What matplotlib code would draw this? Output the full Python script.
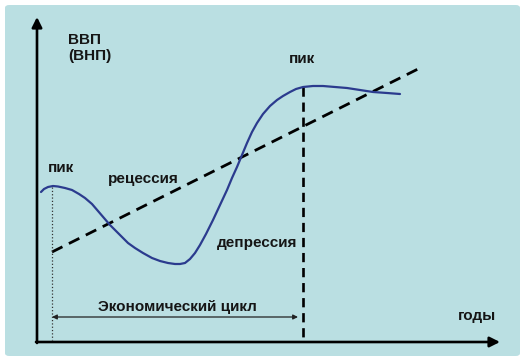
import matplotlib.pyplot as plt
from matplotlib.patches import FancyBboxPatch

# GDP curve (years, GDP in arbitrary units)
years = [0.4, 0.7, 1.1, 1.6, 2.1, 2.8, 3.5, 4.2, 4.8, 5.5, 6.1, 6.7, 7.3, 7.9,
         8.5, 9.1, 9.8, 10.6, 11.5, 12.3, 13.1, 13.8, 14.3, 14.8, 15.3, 15.8,
         16.3, 16.9, 17.6, 18.3, 19.0, 19.5, 20.0, 20.5, 21.0, 21.5, 22.0,
         22.6, 23.3, 24.0, 24.6, 25.3, 25.9, 26.6, 27.6, 28.6, 29.8, 31.0,
         32.3, 33.6, 35.0, 36.3]
gdp = [15.0, 15.3, 15.5, 15.6, 15.55, 15.4, 15.2, 14.8, 14.4, 13.8, 13.1, 12.4,
       11.7, 11.1, 10.5, 9.9, 9.4, 8.9, 8.4, 8.1, 7.9, 7.8, 7.8, 7.9, 8.3, 8.9,
       9.7, 10.8, 12.2, 13.7, 15.2, 16.4, 17.5, 18.7, 19.9, 21.0, 21.9, 22.8,
       23.6, 24.2, 24.6, 25.0, 25.3, 25.5, 25.6, 25.6, 25.5, 25.4, 25.2, 25.0,
       24.9, 24.8]

# long-run trend
trend_years = [1.5, 38.3]
trend_gdp = [9.0, 27.4]

# the two peaks that bound one cycle
peak_years = [1.5, 26.6]
peak_gdp = [15.5, 25.5]
cycle_level = 2.5

x_max = 46.3
y_max = 32.5

plt.rcParams['font.family'] = ['Liberation Sans', 'DejaVu Sans']
fig = plt.figure(figsize=(5.25, 3.61), dpi=100)
fig.patch.set_facecolor('white')
ax = fig.add_axes([0, 0, 1, 1])
ax.set_xlim(-3.7, 48.8)
ax.set_ylim(-1.9, 34.2)
ax.axis('off')
ax.add_patch(FancyBboxPatch((5 / 525, 5 / 361), 515 / 525, 351 / 361,
                            boxstyle='round,pad=0,rounding_size=0.008',
                            transform=fig.transFigure, zorder=0,
                            facecolor='#badfe2', edgecolor='none'))

# axes with arrows
arrow = dict(arrowstyle='-|>', lw=1.9, color='black', mutation_scale=15,
             shrinkA=0, shrinkB=0)
ax.annotate('', xy=(0, y_max), xytext=(0, -0.1), arrowprops=arrow)
ax.annotate('', xy=(x_max, 0), xytext=(-0.1, 0), arrowprops=arrow)

# trend
ax.plot(trend_years, trend_gdp, color='black', lw=2.0, dashes=(4.2, 2.6))

# peak markers
ax.plot([peak_years[0]] * 2, [peak_gdp[0], 0.2], color='#333333', lw=0.9, ls=':')
ax.plot([peak_years[1]] * 2, [peak_gdp[1], 0.5], color='black', lw=1.9,
        dashes=(3.5, 2.2))

# GDP curve
ax.plot(years, gdp, color='#2b3b8e', lw=1.6, solid_joinstyle='round',
        solid_capstyle='round')

# cycle length
ax.annotate('', xy=(peak_years[1] - 0.5, cycle_level), xytext=(peak_years[0], cycle_level),
            arrowprops=dict(arrowstyle='<|-|>', lw=0.9, color='#222222',
                            mutation_scale=7, shrinkA=0, shrinkB=0))

txt = dict(fontsize=11, fontweight='bold', color='#151515', va='baseline')
ax.text(3.1, 30.9, 'ВВП\n(ВНП)', fontsize=11, fontweight='bold', color='#151515',
        va='top', linespacing=1.2)
ax.text(1.1, 17.0, 'пик', **txt)
ax.text(25.2, 27.9, 'пик', **txt)
ax.text(7.1, 15.9, 'рецессия', **txt)
ax.text(18.0, 9.5, 'депрессия', **txt)
ax.text(6.1, 3.1, 'Экономический цикл', **txt)
ax.text(42.1, 2.2, 'годы', **txt)

fig.savefig('out.png', dpi=100)
